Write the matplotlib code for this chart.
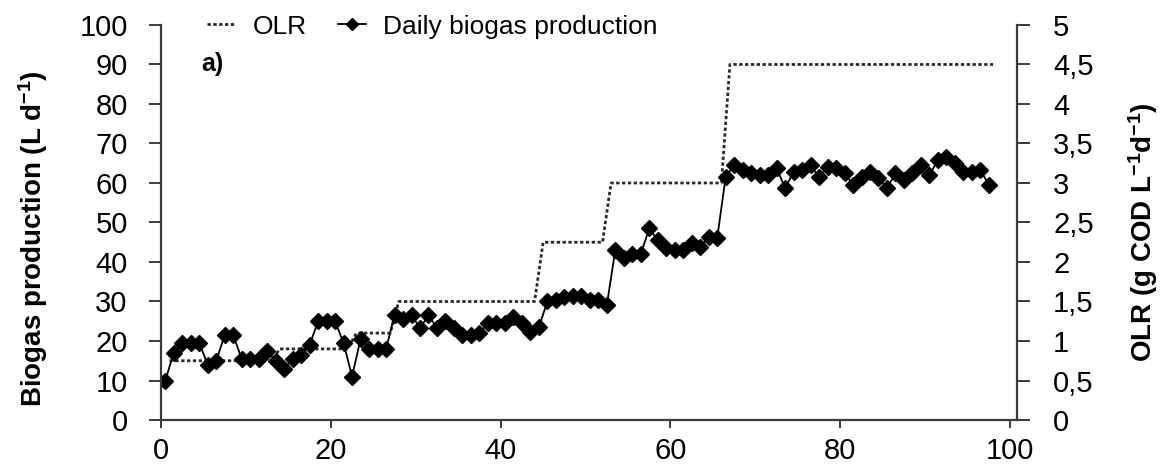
import numpy as np
import matplotlib
matplotlib.use("Agg")
import matplotlib.pyplot as plt
from matplotlib.lines import Line2D

plt.rcParams['font.family'] = ['Liberation Sans', 'DejaVu Sans']
plt.rcParams['mathtext.default'] = 'regular'

# daily biogas production (L/d), one reading per day
day = np.arange(0.5, 98, 1.0)
biogas = [10, 17, 19.5, 19.5, 19.5, 14, 15, 21.5, 21.5, 15.5,
          15.5, 15.5, 17.5, 15, 13, 15.5, 16.5, 19, 25, 25,
          25, 19.5, 11, 20.5, 18, 18, 18, 26.5, 25.5, 26.5,
          23.3, 26.5, 23.3, 25, 23.3, 21.5, 21.5, 22, 24.5, 24.5,
          24.5, 26, 24.5, 22.3, 23.5, 30, 30.5, 31.2, 31.3, 31.3,
          30.5, 30.5, 29, 43, 41, 42, 42, 48.5, 45.5, 43.5,
          43, 43, 44.8, 43.8, 46.3, 46, 61.5, 64.5, 63.3, 62.5,
          62, 62, 63.8, 58.7, 62.8, 63.3, 64.5, 61.5, 64, 63.8,
          62.5, 59.5, 61.5, 62.8, 61.3, 58.7, 62.5, 60.8, 62.5, 64.5,
          62, 65.8, 66.6, 65, 62.8, 62.8, 63.3, 59.5]

# organic loading rate steps (g COD/L/d): start and end day of each level
olr_day = [1, 13, 14, 22, 23, 27, 28, 44, 45, 52, 53, 66, 67, 98]
olr = [0.75, 0.75, 0.9, 0.9, 1.1, 1.1, 1.5, 1.5, 2.25, 2.25, 3.0, 3.0, 4.5, 4.5]

x_ticks = [0, 20, 40, 60, 80, 100]
left_ticks = [0, 10, 20, 30, 40, 50, 60, 70, 80, 90, 100]
right_ticks = [0, 0.5, 1, 1.5, 2, 2.5, 3, 3.5, 4, 4.5, 5]
right_labels = ['0', '0,5', '1', '1,5', '2', '2,5', '3', '3,5', '4', '4,5', '5']

spine_col = '#3a3a3a'
olr_col = '#2a2a2a'
olr_ls = (0, (1.2, 0.9))
tick_fs = 21

fig = plt.figure(figsize=(11.72, 4.66), dpi=100)
ax = fig.add_axes([0.1374, 0.0987, 0.7304, 0.8477])
ax2 = ax.twinx()

ax2.plot(olr_day, olr, color=olr_col, lw=2.0, ls=olr_ls)
ax.plot(day, biogas, color='black', lw=1.3, marker='D', ms=8.3,
        markerfacecolor='black', markeredgecolor='black')

# biogas drawn above the OLR line
ax.set_zorder(ax2.get_zorder() + 1)
ax.patch.set_visible(False)

ax.set_xlim(0, 100.82)
ax.set_ylim(0, 100)
ax2.set_ylim(0, 5)
ax.set_xticks(x_ticks)
ax.set_yticks(left_ticks)
ax2.set_yticks(right_ticks)
ax2.set_yticklabels(right_labels)

for a in (ax, ax2):
    a.spines['top'].set_visible(False)
    for s in a.spines.values():
        s.set_color(spine_col)
        s.set_linewidth(1.6)
ax.spines['right'].set_visible(False)
ax2.spines['left'].set_visible(False)
ax2.spines['bottom'].set_visible(False)

ax.tick_params(axis='x', direction='out', length=6, width=1.4, color=spine_col,
               labelsize=tick_fs, pad=6)
ax.tick_params(axis='y', direction='out', length=9, width=1.4, color=spine_col,
               labelsize=tick_fs, pad=15)
ax2.tick_params(axis='y', direction='out', length=9, width=1.4, color=spine_col,
                labelsize=tick_fs, pad=17)

ax.set_ylabel('Biogas production (L d$^{-1}$)', fontsize=20, fontweight='bold')
ax2.set_ylabel('OLR (g COD L$^{-1}$d$^{-1}$)', fontsize=20, fontweight='bold')
ax.yaxis.set_label_coords(-0.13, 0.46)
ax2.yaxis.set_label_coords(1.128, 0.476)

ax.text(0.047, 0.901, 'a)', transform=ax.transAxes, fontsize=18,
        fontweight='bold', va='center', ha='left')

handles = [Line2D([], [], color=olr_col, lw=2.0, ls=olr_ls),
           Line2D([], [], color='black', lw=1.3, marker='D', ms=6)]
fig.legend(handles, ['OLR', 'Daily biogas production'], loc='center left',
           bbox_to_anchor=(0.177, 0.943), ncol=2, frameon=False, fontsize=19,
           handlelength=1.05, handletextpad=0.65, columnspacing=1.2,
           borderpad=0, borderaxespad=0, numpoints=1)

fig.savefig('out.png', dpi=100)
